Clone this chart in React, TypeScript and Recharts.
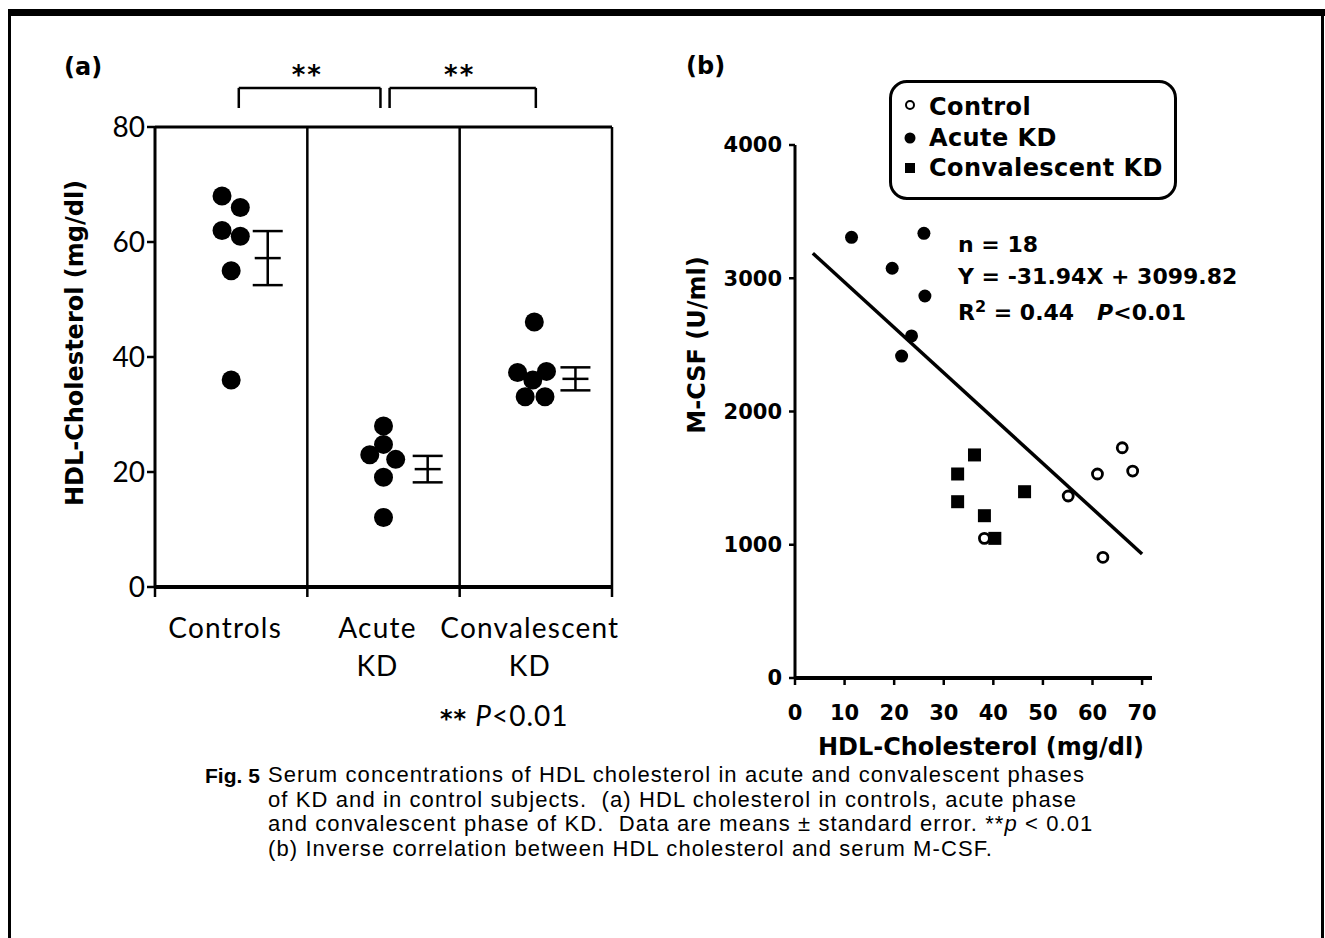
import React from 'react';
import {
  ScatterChart,
  Scatter,
  XAxis,
  YAxis,
  ReferenceLine,
  ReferenceDot,
  ErrorBar,
  Legend,
} from 'recharts';

// ---- panel (a): HDL by group ----
const groupLabels = ['Controls', 'Acute\nKD', 'Convalescent\nKD'];
const groupCentres = [0.5, 1.5, 2.5];
const groupEdges = [0, 1, 2, 3];
const hdlTicks = [0, 20, 40, 60, 80];

const controlsHdl = [
  { x: 0.44, y: 68 },
  { x: 0.56, y: 66 },
  { x: 0.44, y: 62 },
  { x: 0.56, y: 61 },
  { x: 0.5, y: 55 },
  { x: 0.5, y: 36 },
];
const acuteHdl = [
  { x: 1.5, y: 28 },
  { x: 1.5, y: 24.8 },
  { x: 1.41, y: 23 },
  { x: 1.58, y: 22.2 },
  { x: 1.5, y: 19.1 },
  { x: 1.5, y: 12.1 },
];
const convalescentHdl = [
  { x: 2.49, y: 46.1 },
  { x: 2.38, y: 37.3 },
  { x: 2.57, y: 37.5 },
  { x: 2.48, y: 36 },
  { x: 2.43, y: 33.1 },
  { x: 2.56, y: 33.1 },
];
const groupMeans = [
  { x: 0.74, y: 57.2, se: 4.7 },
  { x: 1.79, y: 20.5, se: 2.3 },
  { x: 2.76, y: 36.2, se: 2.0 },
];
const brackets = [
  { from: 0.55, to: 1.48, top: 86.8, leg: 83.3 },
  { from: 1.54, to: 2.5, top: 86.8, leg: 83.3 },
];
const stars = [
  { x: 1.0, y: 90 },
  { x: 2.0, y: 90 },
];

// ---- panel (b): M-CSF vs HDL ----
const mcsfTicks = [0, 1000, 2000, 3000, 4000];
const hdlAxisTicks = [0, 10, 20, 30, 40, 50, 60, 70];

const controlPoints = [
  { x: 38.2, y: 1048 },
  { x: 55.1, y: 1366 },
  { x: 61, y: 1531 },
  { x: 66, y: 1728 },
  { x: 68.1, y: 1553 },
  { x: 62.1, y: 906 },
];
const acutePoints = [
  { x: 11.4, y: 3307 },
  { x: 26, y: 3337 },
  { x: 19.6, y: 3075 },
  { x: 26.2, y: 2867 },
  { x: 23.5, y: 2567 },
  { x: 21.5, y: 2416 },
];
const convalescentPoints = [
  { x: 32.8, y: 1531 },
  { x: 36.2, y: 1674 },
  { x: 32.8, y: 1323 },
  { x: 38.2, y: 1218 },
  { x: 46.3, y: 1398 },
  { x: 40.3, y: 1048 },
];
const fitSegment = [
  { x: 3.6, y: 3187 },
  { x: 70, y: 931 },
];
const legendItems = [
  { label: 'Control', marker: 'open' },
  { label: 'Acute KD', marker: 'dot' },
  { label: 'Convalescent KD', marker: 'square' },
];

const captionLines = [
  'Serum concentrations of HDL cholesterol in acute and convalescent phases',
  'of KD and in control subjects.  (a) HDL cholesterol in controls, acute phase',
  'and convalescent phase of KD.  Data are means \u00b1 standard error. **p < 0.01',
  '(b) Inverse correlation between HDL cholesterol and serum M-CSF.',
];

const BOLD = 'DejaVu Sans';
const GILL = 'Lato';

const Txt = ({ x, y, size, family, weight = 'normal', anchor = 'start', rotate = false, style = {}, children }: any) => {
  const tx = anchor === 'middle' ? '-50%' : anchor === 'end' ? '-100%' : '0';
  return (
    <div
      style={{
        position: 'absolute',
        left: x,
        top: y,
        transform: `translate(${tx}, -50%)${rotate ? ' rotate(-90deg)' : ''}`,
        fontSize: size,
        fontFamily: family,
        fontWeight: weight,
        lineHeight: 1,
        whiteSpace: 'pre',
        color: '#000',
        ...style,
      }}
    >
      {children}
    </div>
  );
};

const bigDot = (p: any) => <circle cx={p.cx} cy={p.cy} r={9.5} fill="#000" />;
const meanTick = (p: any) => (
  <line x1={p.cx - 13} x2={p.cx + 13} y1={p.cy} y2={p.cy} stroke="#000" strokeWidth={2.5} />
);
const openDot = (p: any) => <circle cx={p.cx} cy={p.cy} r={5} fill="#fff" stroke="#000" strokeWidth={2.8} />;
const smallDot = (p: any) => <circle cx={p.cx} cy={p.cy} r={6.5} fill="#000" />;
const square = (p: any) => <rect x={p.cx - 6.5} y={p.cy - 6.5} width={13} height={13} fill="#000" />;

const groupAxisTicks = [...groupEdges, ...groupCentres].sort((a, b) => a - b);

// edges get a tick mark, centres get the group name
const GroupTick = (props: any) => {
  const { x, y, payload } = props;
  const v = payload.value;
  if (groupEdges.includes(v)) {
    return <line x1={x} x2={x} y1={y} y2={y + 10} stroke="#000" strokeWidth={2.5} />;
  }
  const idx = groupCentres.indexOf(v);
  const lines = (groupLabels[idx] || '').split('\n');
  return (
    <text x={x - 6} y={y} textAnchor="middle" fontFamily={GILL} fontSize={28} fill="#000" letterSpacing={1.2}>
      {lines.map((l, i) => (
        <tspan key={i} x={x - 6} dy={i === 0 ? 51 : 38}>
          {l}
        </tspan>
      ))}
    </text>
  );
};

const LegendMarker = ({ kind }: { kind: string }) => (
  <svg width={14} height={14} style={{ display: 'block' }}>
    {kind === 'open' && <circle cx={7} cy={5} r={4} fill="#fff" stroke="#000" strokeWidth={2} />}
    {kind === 'dot' && <circle cx={7} cy={7} r={5.5} fill="#000" />}
    {kind === 'square' && <rect x={2} y={2} width={10} height={10} fill="#000" />}
  </svg>
);

const LegendBox = () => (
  <div
    style={{
      boxSizing: 'border-box',
      width: 288,
      height: 120,
      border: '3px solid #000',
      borderRadius: 18,
      padding: '9px 0 0 11px',
      fontFamily: BOLD,
      fontWeight: 'bold',
      fontSize: 24,
      letterSpacing: 0.4,
      background: '#fff',
    }}
  >
    {legendItems.map((item) => (
      <div key={item.label} style={{ display: 'flex', alignItems: 'center', height: 30.5 }}>
        <LegendMarker kind={item.marker} />
        <span style={{ marginLeft: 12, lineHeight: 1 }}>{item.label}</span>
      </div>
    ))}
  </div>
);

const stroke = { stroke: '#000', strokeWidth: 2.5 };

const PanelA = () => (
  <ScatterChart width={660} height={760} margin={{ top: 127, right: 48, bottom: 0, left: 0 }}>
    <XAxis
      type="number"
      dataKey="x"
      domain={[0, 3]}
      ticks={groupAxisTicks}
      interval={0}
      tick={<GroupTick />}
      tickLine={false}
      tickSize={0}
      tickMargin={0}
      height={173}
      axisLine={{ stroke: '#000', strokeWidth: 4 }}
    />
    <YAxis
      type="number"
      dataKey="y"
      domain={[0, 80]}
      ticks={hdlTicks}
      width={155}
      tickSize={8}
      tickMargin={2}
      axisLine={{ stroke: '#000', strokeWidth: 3 }}
      tickLine={stroke}
      tick={{ fill: '#000', fontFamily: GILL, fontSize: 28 }}
    />
    <ReferenceLine y={80} stroke="#000" strokeWidth={3} />
    {groupEdges.slice(1).map((e) => (
      <ReferenceLine key={`edge-${e}`} x={e} stroke="#000" strokeWidth={2.5} />
    ))}
    {brackets.map((b, i) => [
      <ReferenceLine
        key={`bl-${i}`}
        ifOverflow="visible"
        segment={[{ x: b.from, y: b.leg }, { x: b.from, y: b.top }]}
        {...stroke}
      />,
      <ReferenceLine
        key={`bt-${i}`}
        ifOverflow="visible"
        segment={[{ x: b.from, y: b.top }, { x: b.to, y: b.top }]}
        {...stroke}
      />,
      <ReferenceLine
        key={`br-${i}`}
        ifOverflow="visible"
        segment={[{ x: b.to, y: b.top }, { x: b.to, y: b.leg }]}
        {...stroke}
      />,
    ])}
    {stars.map((s, i) => (
      <ReferenceDot
        key={`star-${i}`}
        x={s.x}
        y={s.y}
        ifOverflow="visible"
        shape={(p: any) => (
          <text x={p.cx} y={p.cy + 14} textAnchor="middle" fontFamily={BOLD} fontWeight="bold" fontSize={26} letterSpacing={2}>
            **
          </text>
        )}
      />
    ))}
    <Scatter data={controlsHdl} shape={bigDot} isAnimationActive={false} />
    <Scatter data={acuteHdl} shape={bigDot} isAnimationActive={false} />
    <Scatter data={convalescentHdl} shape={bigDot} isAnimationActive={false} />
    <Scatter data={groupMeans} shape={meanTick} isAnimationActive={false}>
      <ErrorBar dataKey="se" direction="y" width={15} stroke="#000" strokeWidth={2.5} />
    </Scatter>
  </ScatterChart>
);

const tickB = { fill: '#000', fontFamily: BOLD, fontWeight: 'bold', fontSize: 21 };

const PanelB = () => (
  <ScatterChart width={665} height={800} margin={{ top: 145, right: 173, bottom: 0, left: 0 }}>
    <XAxis
      type="number"
      dataKey="x"
      domain={[0, 72]}
      ticks={hdlAxisTicks}
      height={122}
      tickSize={7}
      tickMargin={20}
      axisLine={{ stroke: '#000', strokeWidth: 4 }}
      tickLine={stroke}
      tick={tickB}
    />
    <YAxis
      type="number"
      dataKey="y"
      domain={[0, 4000]}
      ticks={mcsfTicks}
      width={135}
      tickSize={6}
      tickMargin={7}
      axisLine={{ stroke: '#000', strokeWidth: 3 }}
      tickLine={stroke}
      tick={tickB}
    />
    <Legend
      layout="horizontal"
      verticalAlign="middle"
      align="center"
      wrapperStyle={{ left: 229, top: 80, width: 288, height: 120 }}
      content={() => <LegendBox />}
    />
    <ReferenceLine segment={fitSegment} stroke="#000" strokeWidth={3.5} />
    <Scatter name="Control" data={controlPoints} shape={openDot} isAnimationActive={false} />
    <Scatter name="Acute KD" data={acutePoints} shape={smallDot} isAnimationActive={false} />
    <Scatter name="Convalescent KD" data={convalescentPoints} shape={square} isAnimationActive={false} />
  </ScatterChart>
);

const renderCaption = (line: string) => {
  const k = line.indexOf('**p');
  if (k < 0) return line;
  return (
    <>
      {line.slice(0, k + 2)}
      <i>p</i>
      {line.slice(k + 3)}
    </>
  );
};

export default function App() {
  const captionY = [775, 800, 824, 849];
  return (
    <div style={{ position: 'absolute', left: 0, top: 0, width: 1325, height: 938, background: '#fff', overflow: 'hidden' }}>
      {/* frame */}
      <div style={{ position: 'absolute', left: 8, top: 9, width: 1317, height: 7, background: '#000' }} />
      <div style={{ position: 'absolute', left: 8, top: 9, width: 3, height: 929, background: '#000' }} />
      <div style={{ position: 'absolute', left: 1321, top: 9, width: 3, height: 929, background: '#000' }} />

      <div style={{ position: 'absolute', left: 0, top: 0 }}>
        <PanelA />
      </div>
      <div style={{ position: 'absolute', left: 660, top: 0 }}>
        <PanelB />
      </div>

      <Txt x={64} y={67} size={24} family={BOLD} weight="bold">(a)</Txt>
      <Txt x={686} y={66} size={24} family={BOLD} weight="bold">(b)</Txt>

      <Txt x={75} y={343} size={24} family={BOLD} weight="bold" anchor="middle" rotate>
        HDL-Cholesterol (mg/dl)
      </Txt>
      <Txt x={440} y={715} size={28} family={GILL} style={{ letterSpacing: 1 }}>
        <span style={{ fontFamily: BOLD, fontWeight: 'bold', fontSize: 24, position: 'relative', top: 1 }}>**</span>{' '}
        <i>P</i>&lt;0.01
      </Txt>

      <Txt x={697} y={345} size={24} family={BOLD} weight="bold" anchor="middle" rotate>
        M-CSF (U/ml)
      </Txt>
      <Txt x={981} y={747} size={24} family={BOLD} weight="bold" anchor="middle">
        HDL-Cholesterol (mg/dl)
      </Txt>

      <Txt x={958} y={245} size={22} family={BOLD} weight="bold">n = 18</Txt>
      <Txt x={958} y={277} size={22} family={BOLD} weight="bold">Y = -31.94X + 3099.82</Txt>
      <Txt x={958} y={313} size={22} family={BOLD} weight="bold">
        R<span style={{ fontSize: 16, position: 'relative', top: -8 }}>2</span> = 0.44   <i>P</i>&lt;0.01
      </Txt>

      <Txt x={205} y={captionY[0]} size={21} family="Liberation Sans" weight="bold">Fig. 5</Txt>
      {captionLines.map((line, i) => (
        <Txt key={i} x={268} y={captionY[i]} size={22} family="Liberation Sans" style={{ letterSpacing: 1.1 }}>
          {renderCaption(line)}
        </Txt>
      ))}
    </div>
  );
}
